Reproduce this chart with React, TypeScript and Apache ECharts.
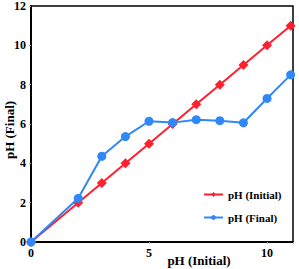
import React, { useEffect, useRef } from "react";
import * as echarts from "echarts";

const xInitial = [0, 2, 3, 4, 5, 6, 7, 8, 9, 10, 11];
const phInitial = [0, 2, 3, 4, 5, 6, 7, 8, 9, 10, 11];
const phFinal = [0, 2.22, 4.36, 5.36, 6.14, 6.07, 6.22, 6.17, 6.06, 7.3, 8.5];
const yTicks = [0, 2, 4, 6, 8, 10, 12];

const FONT = "'Liberation Serif', 'Times New Roman', serif";

export default function App() {
  const ref = useRef<HTMLDivElement>(null);
  useEffect(() => {
    if (!ref.current) return;
    const chart = echarts.init(ref.current, undefined, { renderer: "svg" });
    chart.setOption({
      animation: false,
      backgroundColor: "#fff",
      grid: {
        left: 31,
        right: 6,
        top: 6,
        bottom: 27,
        show: true,
        borderColor: "#000",
        borderWidth: 1.5,
      },
      legend: {
        left: 198,
        top: 184,
        orient: "vertical",
        itemWidth: 19,
        itemHeight: 6,
        itemGap: 12,
        textStyle: { fontFamily: FONT, fontWeight: "bold", fontSize: 11, color: "#000" },
        data: ["pH (Initial)", "pH (Final)"],
      },
      xAxis: {
        type: "value",
        min: 0,
        max: 11.1,
        interval: 5,
        axisLine: { show: true, lineStyle: { color: "#000", width: 2 } },
        axisTick: { show: true, inside: false, length: 2, lineStyle: { color: "#aaa" } },
        splitLine: { show: false },
        axisLabel: {
          fontFamily: FONT,
          fontWeight: "bold",
          fontSize: 12,
          color: "#000",
          margin: 5,
          formatter: (v: number) => (v % 5 === 0 ? String(v) : ""),
        },
      },
      yAxis: {
        type: "value",
        min: yTicks[0],
        max: yTicks[yTicks.length - 1],
        interval: 2,
        axisLine: { show: true, lineStyle: { color: "#000", width: 2 } },
        axisTick: { show: true, inside: false, length: 2, lineStyle: { color: "#aaa" } },
        splitLine: { show: false },
        axisLabel: {
          fontFamily: FONT,
          fontWeight: "bold",
          fontSize: 12,
          color: "#000",
          margin: 5,
        },
      },
      graphic: [
        {
          type: "text",
          x: 199,
          y: 260,
          style: {
            text: "pH (Initial)",
            fontFamily: FONT,
            fontWeight: "bold",
            fontSize: 13,
            fill: "#000",
            textAlign: "center",
            textVerticalAlign: "middle",
          },
        },
        {
          type: "text",
          x: 9,
          y: 130,
          rotation: Math.PI / 2,
          style: {
            text: "pH (Final)",
            fontFamily: FONT,
            fontWeight: "bold",
            fontSize: 13,
            fill: "#000",
            textAlign: "center",
            textVerticalAlign: "middle",
          },
        },
      ],
      series: [
        {
          name: "pH (Initial)",
          type: "line",
          data: xInitial.map((x, i) => [x, phInitial[i]]),
          symbol: "diamond",
          symbolSize: 10,
          itemStyle: { color: "#ff1f2f" },
          lineStyle: { color: "#ff1f2f", width: 2 },
          z: 2,
        },
        {
          name: "pH (Final)",
          type: "line",
          data: xInitial.map((x, i) => [x, phFinal[i]]),
          symbol: "circle",
          symbolSize: 9,
          itemStyle: { color: "#2f88f5" },
          lineStyle: { color: "#2f88f5", width: 2 },
          z: 3,
        },
      ],
    });
    return () => chart.dispose();
  }, []);
  return (
    <div
      ref={ref}
      style={{ position: "fixed", left: 0, top: 0, width: 299, height: 269 }}
    />
  );
}
